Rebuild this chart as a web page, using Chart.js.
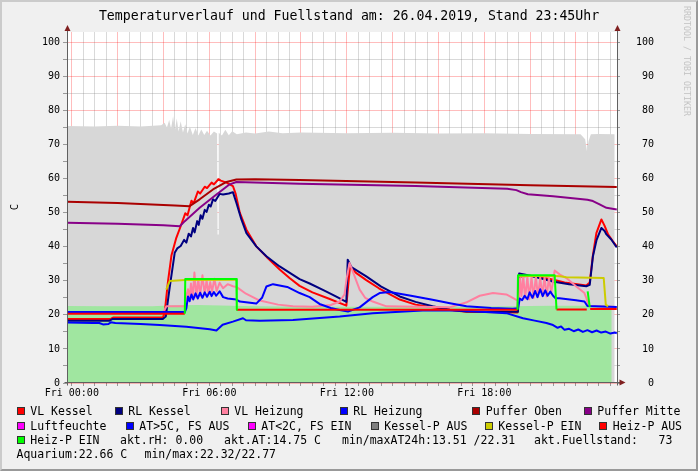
<!DOCTYPE html>
<html>
<head>
<meta charset="utf-8">
<script src="https://cdn.jsdelivr.net/npm/chart.js@4.4.0/dist/chart.umd.min.js"></script>
<style>
  body { margin: 0; background: #f0f0f0; }
  #wrap { position: relative; width: 698px; height: 471px; background: #f0f0f0; overflow: hidden;
          font-family: 'DejaVu Sans Mono', monospace; color: #000; }
  #plot { position: absolute; left: 0; top: 0; }
  .txt { position: absolute; white-space: pre; }
  .sw { position: absolute; width: 8px; height: 8px; box-sizing: border-box; border: 1px solid #333; }
  #frame { position: absolute; left: 0; top: 0; width: 698px; height: 471px; box-sizing: border-box;
           border: 2px solid; border-color: #cbcbcb #999 #999 #cbcbcb; pointer-events: none; }
</style>
</head>
<body>
<div id="wrap">
  <canvas id="plot" width="698" height="471"></canvas>
  <div class="txt" style="left:0;top:7px;width:698px;text-align:center;font-size:13.2px;line-height:18px;">Temperaturverlauf und Fuellstand am: 26.04.2019, Stand 23:45Uhr</div>
  <div class="txt" style="left:4px;top:200px;width:20px;height:14px;line-height:14px;text-align:center;font-size:10.5px;transform:rotate(-90deg);">C</div>
  <div class="txt" style="left:622px;top:56px;width:130px;height:10px;line-height:10px;text-align:center;font-size:8.3px;color:#c4c4c4;transform:rotate(90deg);">RRDTOOL / TOBI OETIKER</div>
  <div id="legend"></div>
  <div id="frame"></div>
</div>
<script>
// time axis in hours of 26.04.2019
const hourMin = -0.21;
const hourMax = 23.79;
const xLabelHours = [0, 6, 12, 18];
const xLabels = ['Fri 00:00', 'Fri 06:00', 'Fri 12:00', 'Fri 18:00'];

// [hour, value]
const fuellstand = [[-0.21,75.4],[1.0,75.3],[2.0,75.5],[3.0,75.3],[3.9,75.6],[4.05,76.4],[4.15,75.0],[4.25,77.2],[4.33,74.6],[4.42,78.3],[4.5,74.2],[4.58,77.6],[4.66,73.8],[4.75,76.8],[4.85,73.5],[4.95,75.9],[5.05,73.2],[5.15,75.3],[5.28,72.8],[5.4,74.8],[5.52,72.6],[5.65,74.4],[5.78,72.8],[5.9,74.0],[6.05,72.6],[6.2,73.8],[6.34,73.2],[6.36,43.6],[6.39,43.6],[6.41,73.4],[6.55,72.6],[6.7,74.3],[6.85,72.7],[7.0,73.9],[7.2,73.0],[7.6,73.5],[8.0,73.2],[8.6,73.8],[9.2,73.3],[10,73.5],[12,73.3],[14,73.4],[16,73.2],[18,73.3],[20,73.1],[22.2,73.0],[22.4,71.5],[22.48,68.0],[22.55,71.0],[22.65,73.0],[23.0,73.1],[23.69,73.0]];
const aquarium = [[-0.21,22.6],[1.5,22.5],[3.5,22.55],[4.5,22.8],[5.5,22.9],[6.5,22.75],[7.5,22.6],[9,22.45],[11,22.4],[13,22.35],[15,22.35],[17,22.4],[19,22.55],[21,22.65],[23.56,22.66]];
const vlKessel = [[-0.21,18.8],[1.7,18.8],[1.8,19.2],[3.97,19.2],[4.05,20.5],[4.2,30],[4.35,37.5],[4.56,42.6],[4.75,46],[4.95,49.8],[5.05,49.2],[5.22,53.5],[5.32,52.8],[5.5,56.2],[5.6,55.6],[5.8,57.6],[5.9,57.2],[6.1,58.8],[6.2,58.3],[6.4,59.8],[6.5,59.4],[6.75,58.8],[7.03,57.8],[7.15,55.5],[7.33,50],[7.62,45],[8.05,40.1],[8.5,37],[9.07,33.3],[9.5,30.8],[9.94,28.5],[10.5,26.6],[11.2,24.8],[11.98,22.7],[12.05,28],[12.14,34.2],[12.4,32.3],[12.85,30.2],[13.4,27.8],[14.31,24.5],[15.0,23.0],[15.74,22.2],[16.5,21.4],[17.22,20.9],[19.45,20.7],[19.5,31.2],[20.0,31.5],[20.98,30.4],[21.5,29.5],[22.45,28.6],[22.6,29.5],[22.74,37.5],[22.89,44],[23.11,48],[23.25,46.1],[23.4,43.6],[23.61,41.6],[23.78,40.1]];
const rlKessel = [[-0.21,18.3],[1.65,18.3],[1.78,18.8],[3.97,18.8],[4.1,19.5],[4.27,28],[4.49,38.2],[4.6,39.5],[4.75,40.2],[4.9,42],[5.0,41.2],[5.1,43.8],[5.2,43],[5.29,45.5],[5.36,44.2],[5.47,47.5],[5.54,46.4],[5.62,49.2],[5.7,48.2],[5.8,50.8],[5.88,50.2],[5.98,52.3],[6.06,51.8],[6.16,53.9],[6.26,53.4],[6.45,55.5],[6.6,55.3],[6.85,55.6],[7.03,56.0],[7.18,52.9],[7.4,48],[7.62,44],[8.05,40.1],[8.49,37.2],[9.07,34.2],[9.94,30.5],[10.38,29.2],[11.0,27.2],[11.5,25.5],[11.98,23.8],[12.04,36.2],[12.2,34],[12.85,31.3],[13.5,28.3],[14.31,25.4],[15.0,23.8],[15.74,22.5],[16.5,21.5],[17.22,21.0],[19.47,20.9],[19.52,32.1],[19.8,31.8],[20.4,30.8],[20.98,29.8],[21.7,29.0],[22.45,28.4],[22.6,28.8],[22.74,37.2],[22.9,42],[23.11,45.5],[23.25,44.6],[23.33,43.6],[23.54,42.1],[23.78,39.8]];
const vlHeizung = [[-0.21,20.6],[3.97,20.6],[4.05,21.5],[4.13,22.5],[4.93,22.5],[5.0,25.5],[5.07,27.5],[5.14,25],[5.2,29.2],[5.27,24.6],[5.35,32.4],[5.43,25.2],[5.52,30.4],[5.6,25.6],[5.7,31.6],[5.8,26],[5.88,30.2],[5.96,26.4],[6.04,29.6],[6.12,26.8],[6.22,30.6],[6.32,27],[6.45,29.4],[6.6,27.8],[6.8,29],[7.03,28.4],[7.18,28.2],[7.6,26.2],[8.2,24.2],[9.0,23.0],[9.65,22.5],[10.5,22.4],[11.3,22.9],[11.69,23.9],[11.9,26],[12.0,31],[12.12,35.2],[12.3,32],[12.56,27.4],[12.8,25],[13.13,23.9],[13.73,22.5],[16.48,22.2],[17.2,23.6],[17.8,25.6],[18.38,26.4],[18.96,26.0],[19.4,24.4],[19.5,24],[19.56,30.8],[19.62,25.5],[19.7,31.5],[19.78,24.8],[19.88,31.2],[19.96,24.6],[20.06,31],[20.15,25],[20.25,31.4],[20.34,25.3],[20.44,31],[20.53,25.6],[20.63,31.2],[20.72,25.4],[20.82,30.8],[20.92,26.5],[21.07,33],[21.3,31.8],[21.58,30.8],[22.0,28.4],[22.37,26.4],[22.45,25],[22.55,22.6],[23.78,22.3]];
const rlHeizung = [[-0.21,20.8],[4.93,20.8],[5.0,22],[5.07,25.4],[5.14,24],[5.22,26],[5.3,24.5],[5.4,26.3],[5.5,24.8],[5.6,26.5],[5.7,25],[5.8,26.6],[5.9,25.3],[6.02,26.8],[6.1,25.5],[6.2,26.7],[6.3,25.6],[6.45,26.9],[6.6,25.2],[6.8,24.8],[7.18,24.5],[7.33,23.9],[8.05,23.3],[8.3,25],[8.49,28.3],[8.78,29.0],[9.4,28.2],[9.94,26.4],[10.38,25.2],[10.81,23.2],[11.3,22],[11.69,21.4],[12.05,21.0],[12.56,22.2],[13.13,25.2],[13.43,26.4],[13.87,26.7],[14.8,25.6],[15.74,24.4],[16.5,23.4],[17.22,22.5],[18.3,22.0],[19.24,21.8],[19.47,21.9],[19.55,24.8],[19.65,24.3],[19.76,25.6],[19.88,24.6],[19.98,26.6],[20.1,25],[20.22,27],[20.32,25.2],[20.44,27.5],[20.55,25.5],[20.66,27.2],[20.76,25.6],[20.88,26.8],[21.0,25.6],[21.1,24.9],[21.28,24.9],[22.0,24.3],[22.37,23.9],[22.5,22.6],[23.78,22.3]];
const pufferOben = [[-0.21,53.2],[2,52.8],[4.5,52.1],[5.14,51.9],[5.58,53.9],[6.16,56.8],[6.75,59.0],[7.18,59.7],[8.0,59.8],[9.94,59.6],[15,58.8],[20,58.0],[23.78,57.5]];
const pufferMitte = [[-0.21,47.0],[2,46.7],[4.0,46.3],[4.71,46.0],[4.93,47.5],[5.58,51.4],[6.31,55.3],[6.89,58.3],[7.18,59.0],[9.94,58.5],[15,57.8],[19.0,57.0],[19.4,56.6],[19.6,56.0],[19.9,55.4],[21,54.8],[22.5,53.8],[22.74,53.4],[23.03,52.4],[23.33,51.4],[23.78,50.9]];
const luftfeuchte = [[-0.21,0],[23.78,0]];
const aussenWarm = [[-0.21,17.75],[0.91,17.6],[1.2,17.6],[1.36,17.2],[1.6,17.3],[1.7,17.8],[1.9,17.6],[3.0,17.3],[3.84,17.0],[5.0,16.5],[6.02,15.8],[6.31,15.4],[6.58,17.1],[7.03,18.0],[7.47,19.0],[7.6,18.4],[8.2,18.3],[9.65,18.5],[11.69,19.5],[13.13,20.5],[15.31,21.3],[17.0,21.3],[18.96,20.5],[19.69,19.0],[20.2,18.3],[20.71,17.6],[21.0,17.0],[21.2,16.2],[21.35,16.6],[21.5,15.6],[21.7,15.9],[21.9,15.2],[22.1,15.7],[22.3,15.0],[22.5,15.5],[22.7,14.9],[22.9,15.4],[23.1,14.8],[23.3,15.1],[23.5,14.5],[23.7,14.8],[23.78,14.6]];
const aussenKalt = [];
const kesselPAus = [];
const kesselPEin = [[4.12,27.4],[4.27,29.9],[4.93,30.2],[7.18,30.3],[7.19,null],[19.47,31.4],[21.07,31.4],[21.3,31.3],[21.58,31.0],[23.21,30.8],[23.3,23.0],[23.4,22.5]];
const heizPAus = [[-0.21,20.3],[4.93,20.3],[4.94,null],[7.2,21.5],[19.45,21.5],[19.46,null],[21.15,21.6],[22.47,21.6],[22.48,null],[22.62,21.7],[23.78,21.7]];
const heizPEin = [[4.93,20.3],[4.95,30.5],[7.18,30.5],[7.2,21.5],[7.21,null],[19.45,21.5],[19.47,31.6],[21.07,31.6],[21.15,21.6],[21.16,null],[22.51,26.9],[22.6,22.3]];

const legendRows = [
  { y: 411, items: [[16.5,'#ff0000','VL Kessel'],[114.5,'#000080','RL Kessel'],[220.5,'#ff80a0','VL Heizung'],[339.5,'#0000ff','RL Heizung'],[472,'#aa0000','Puffer Oben'],[583.5,'#880088','Puffer Mitte']] },
  { y: 425.5, items: [[16.5,'#ff00ff','Luftfeuchte'],[125.5,'#0000ff','AT>5C, FS AUS'],[247.5,'#ff00ff','AT<2C, FS EIN'],[370.5,'#808080','Kessel-P AUS'],[484.5,'#cccc00','Kessel-P EIN'],[599,'#ff0000','Heiz-P AUS']] },
  { y: 439.5, items: [[16.5,'#00ff00','Heiz-P EIN'],[120,null,'akt.rH: 0.00'],[224,null,'akt.AT:14.75 C'],[342,null,'min/maxAT24h:13.51 /22.31'],[534,null,'akt.Fuellstand:   73']] },
  { y: 454, items: [[16.5,null,'Aquarium:22.66 C'],[144.5,null,'min/max:22.32/22.77']] }
];

const legendBox = document.getElementById('legend');
legendRows.forEach(row => {
  row.items.forEach(([x, color, text]) => {
    let tx = x;
    if (color) {
      const sw = document.createElement('div');
      sw.className = 'sw';
      sw.style.left = x + 'px';
      sw.style.top = (row.y - 4) + 'px';
      sw.style.background = color;
      legendBox.appendChild(sw);
      tx = x + 13.8;
    }
    const t = document.createElement('div');
    t.className = 'txt';
    t.style.left = tx + 'px';
    t.style.top = (row.y - 7) + 'px';
    t.style.fontSize = '11.5px';
    t.style.lineHeight = '14px';
    t.textContent = text;
    legendBox.appendChild(t);
  });
});

function line(label, data, color) {
  return { label, data, borderColor: color, borderWidth: 2, pointRadius: 0, fill: false,
           tension: 0, spanGaps: false, borderJoinStyle: 'round' };
}
function area(label, data, color) {
  return { label, data, borderColor: color, backgroundColor: color, borderWidth: 0,
           pointRadius: 0, fill: 'origin', tension: 0 };
}

// drawing order: first entry at the bottom
const sets = [
  area('Fuellstand', fuellstand, '#d7d7d7'),
  area('Aquarium', aquarium, '#a0e6a0'),
  line('VL Kessel', vlKessel, '#ff0000'),
  line('RL Kessel', rlKessel, '#000080'),
  line('VL Heizung', vlHeizung, '#ff80a0'),
  line('RL Heizung', rlHeizung, '#0000ff'),
  line('Puffer Oben', pufferOben, '#aa0000'),
  line('Puffer Mitte', pufferMitte, '#880088'),
  line('Luftfeuchte', luftfeuchte, '#ff00ff'),
  line('AT>5C, FS AUS', aussenWarm, '#0000ff'),
  line('AT<2C, FS EIN', aussenKalt, '#ff00ff'),
  line('Kessel-P AUS', kesselPAus, '#808080'),
  line('Kessel-P EIN', kesselPEin, '#cccc00'),
  line('Heiz-P AUS', heizPAus, '#ff0000'),
  line('Heiz-P EIN', heizPEin, '#00ff00')
];
sets.forEach((d, i) => { d.order = sets.length - i; });

const majorGrid = 'rgba(255,0,0,0.26)';
const minorGrid = 'rgba(128,128,128,0.3)';
const monoFont = { family: "'DejaVu Sans Mono'", size: 10 };

const frame = {
  id: 'frame',
  beforeDraw(c) {
    const { ctx, chartArea: a } = c;
    ctx.save();
    ctx.fillStyle = '#ffffff';
    ctx.fillRect(a.left, a.top, a.right - a.left, a.bottom - a.top);
    ctx.restore();
  },
  afterDraw(c) {
    const { ctx, chartArea: a } = c;
    const l = Math.round(a.left) + 0.5, r = Math.round(a.right) + 0.5, b = Math.round(a.bottom) - 0.5;
    ctx.save();
    ctx.strokeStyle = '#606060';
    ctx.lineWidth = 1;
    ctx.beginPath();
    ctx.moveTo(l, b + 3); ctx.lineTo(l, a.top - 4);
    ctx.moveTo(r, b + 3); ctx.lineTo(r, a.top - 4);
    ctx.moveTo(l - 3, b); ctx.lineTo(r + 4, b);
    ctx.stroke();
    ctx.fillStyle = '#7f1f1f';
    [l, r].forEach(x => {
      ctx.beginPath();
      ctx.moveTo(x - 3, a.top - 1); ctx.lineTo(x + 3, a.top - 1); ctx.lineTo(x, a.top - 7);
      ctx.closePath(); ctx.fill();
    });
    ctx.beginPath();
    ctx.moveTo(r + 2, b - 3); ctx.lineTo(r + 2, b + 3); ctx.lineTo(r + 8, b);
    ctx.closePath(); ctx.fill();
    ctx.restore();
  }
};

function hourTicks(s) {
  const t = [];
  for (let h = 0; h <= 23.5; h += 0.5) t.push({ value: h });
  s.ticks = t;
}
function degTicks(s) {
  const t = [];
  for (let v = 0; v <= 100; v += 5) t.push({ value: v });
  s.ticks = t;
}

new Chart(document.getElementById('plot'), {
  type: 'line',
  data: { datasets: sets },
  plugins: [frame],
  options: {
    responsive: false,
    animation: false,
    events: [],
    layout: { padding: { top: 32, right: 44, bottom: 64, left: 0 } },
    plugins: { legend: { display: false }, tooltip: { enabled: false }, title: { display: false } },
    scales: {
      x: {
        type: 'linear', min: hourMin, max: hourMax, z: 1,
        afterBuildTicks: hourTicks,
        afterFit: s => { s.height = 24; },
        border: { display: false },
        grid: {
          color: c => (c.tick.value % 2 === 0 ? majorGrid : minorGrid),
          tickLength: 3, tickColor: '#999'
        },
        ticks: {
          autoSkip: false, maxRotation: 0, padding: 1, color: '#000', font: monoFont,
          callback: v => { const i = xLabelHours.indexOf(v); return i >= 0 ? xLabels[i] : ''; }
        }
      },
      y: {
        position: 'left', min: 0, max: 103, z: 1,
        afterBuildTicks: degTicks,
        afterFit: s => { s.width = 67; },
        border: { display: false },
        grid: {
          color: c => (c.tick.value % 10 === 0 ? majorGrid : minorGrid),
          tickLength: 4, tickColor: '#999'
        },
        ticks: {
          autoSkip: false, padding: 3, color: '#000', font: monoFont,
          callback: v => (v % 10 === 0 ? String(v) : '')
        }
      },
      y2: {
        position: 'right', min: 0, max: 103,
        afterBuildTicks: degTicks,
        afterFit: s => { s.width = 37; },
        border: { display: false },
        grid: { drawOnChartArea: false, tickLength: 3, tickColor: '#999' },
        ticks: {
          autoSkip: false, padding: 3, crossAlign: 'far', color: '#000', font: monoFont,
          callback: v => (v % 10 === 0 ? String(v) : '')
        }
      }
    }
  }
});
</script>
</body>
</html>
